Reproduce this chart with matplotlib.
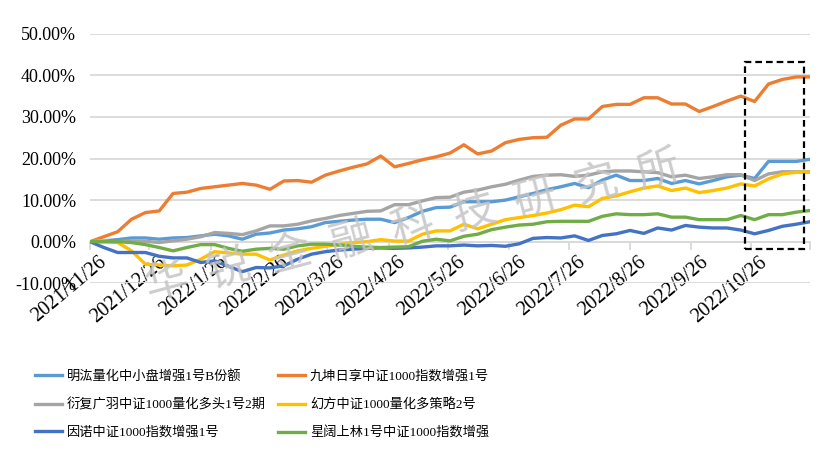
import pandas as pd
import matplotlib
matplotlib.use('Agg')
import matplotlib.pyplot as plt
import matplotlib.dates as mdates
from matplotlib.patches import Rectangle
from matplotlib.transforms import ScaledTranslation
from matplotlib.ticker import FuncFormatter

# weekly net value dates (Fridays)
dates = pd.date_range('2021-11-26', periods=53, freq='7D')
tick_dates = pd.date_range('2021-11-26', periods=12, freq=pd.DateOffset(months=1))
x_end = pd.Timestamp('2022-11-25')

names = ['明汯量化中小盘增强1号B份额', '九坤日享中证1000指数增强1号',
         '衍复广羽中证1000量化多头1号2期', '幻方中证1000量化多策略2号',
         '因诺中证1000指数增强1号', '星阔上林1号中证1000指数增强']
colors = ['#5B9BD5', '#ED7D31', '#A5A5A5', '#FFC000', '#4472C4', '#70AD47']

# cumulative return, %
minghong = [0, 0.2, 0.5, 0.9, 0.9, 0.6, 0.9, 1.0, 1.4, 1.8, 1.4, 0.6, 1.8, 2.1, 2.8,
            3.1, 3.6, 4.6, 4.9, 5.2, 5.4, 5.4, 4.6, 5.8, 7.3, 8.2, 8.3, 9.6, 9.6, 9.6,
            10.0, 10.8, 11.6, 12.5, 13.2, 14.0, 13.0, 14.8, 16.0, 14.7, 14.7, 15.2, 14.0,
            14.7, 13.9, 14.7, 15.6, 16.0, 15.2, 19.3, 19.3, 19.3, 19.8]
jiukun = [0, 1.2, 2.4, 5.4, 7.0, 7.4, 11.6, 11.9, 12.8, 13.2, 13.6, 14.0, 13.6, 12.6, 14.6,
          14.7, 14.3, 16.0, 17.0, 17.9, 18.7, 20.6, 18.0, 18.8, 19.7, 20.4, 21.3, 23.3, 21.1,
          21.8, 23.8, 24.6, 25.0, 25.1, 28.0, 29.5, 29.5, 32.5, 33.0, 33.0, 34.6, 34.6, 33.1,
          33.1, 31.3, 32.5, 33.8, 35.0, 33.7, 37.9, 39.0, 39.6, 39.6]
yanfu = [0, 0, 0, 0.2, 0.1, -0.2, 0.2, 0.6, 1.2, 2.2, 2.0, 1.7, 2.6, 3.8, 3.8,
         4.2, 5.0, 5.6, 6.3, 6.8, 7.3, 7.4, 8.9, 8.9, 9.8, 10.6, 10.7, 11.9, 12.4, 13.2,
         13.8, 14.8, 15.7, 16.0, 16.1, 15.7, 16.0, 16.8, 17.0, 17.0, 16.8, 16.6, 15.6,
         16.0, 15.2, 15.6, 16.1, 16.1, 14.7, 16.3, 16.8, 16.8, 16.8]
huanfang = [0, 0.2, -0.2, -2.2, -5.4, -5.6, -5.8, -5.6, -4.2, -2.4, -2.7, -3.0, -3.0, -4.4, -3.2,
            -2.2, -1.6, -1.1, -0.7, -0.2, 0.0, 0.5, 0.15, 0.15, 1.8, 2.6, 2.6, 4.2, 3.1, 4.2,
            5.3, 5.8, 6.3, 6.9, 7.7, 8.8, 8.4, 10.4, 11.0, 12.0, 12.9, 13.4, 12.3,
            12.9, 11.8, 12.3, 12.9, 13.9, 13.4, 15.1, 16.3, 16.7, 16.7]
yinnuo = [0, -1.4, -2.6, -2.6, -2.6, -3.5, -3.9, -3.9, -5.0, -4.6, -5.9, -7.2, -6.2, -6.3, -5.8,
          -4.2, -3.0, -2.4, -2.0, -1.8, -1.6, -1.5, -1.6, -1.5, -1.3, -1.0, -1.0, -0.8, -1.0, -0.9,
          -1.1, -0.5, 0.8, 1.0, 0.9, 1.4, 0.3, 1.5, 1.9, 2.7, 2.0, 3.3, 2.8,
          3.9, 3.5, 3.3, 3.3, 2.8, 1.9, 2.7, 3.7, 4.2, 4.8]
xingkuo = [0, 0, 0, -0.2, -0.7, -1.4, -2.2, -1.4, -0.7, -0.7, -1.6, -2.3, -1.8, -1.6, -1.8,
           -1.0, -0.6, -0.6, -0.8, -1.1, -1.3, -1.4, -1.3, -1.2, 0.1, 0.6, 0.2, 1.3, 1.8, 2.9,
           3.5, 4.0, 4.2, 4.8, 4.9, 4.9, 4.9, 6.1, 6.7, 6.5, 6.5, 6.7, 5.9,
           5.9, 5.3, 5.3, 5.3, 6.3, 5.3, 6.5, 6.5, 7.1, 7.5]
series = [minghong, jiukun, yanfu, huanfang, yinnuo, xingkuo]

# highlighted last month
box_start, box_end = pd.Timestamp('2022-10-23'), pd.Timestamp('2022-11-22')
box_low, box_high = -1.8, 43.3

watermark = '华锐金融科技研究所'

serif = 'Liberation Serif'
mixed = ['Liberation Serif', 'Noto Sans CJK SC']

fig = plt.figure(figsize=(8.27, 4.51), dpi=100)
ax = fig.add_axes([90 / 827, 1 - 283.3 / 451, 720 / 827, 249.6 / 451])

lines = []
for vals, name, c in zip(series, names, colors):
    ln, = ax.plot(dates, vals, color=c, lw=2.4, label=name, zorder=3)
    lines.append(ln)

ax.set_ylim(-10, 50)
ax.set_yticks(range(-10, 51, 10))
ax.yaxis.set_major_formatter(FuncFormatter(lambda v, p: f'{v:.2f}%'))
ax.yaxis.grid(True, color='#d9d9d9', lw=1.3)
ax.set_axisbelow(True)
ax.tick_params(axis='y', length=0, pad=10)
for lbl in ax.get_yticklabels():
    lbl.set_fontfamily(serif)
    lbl.set_fontsize(13)

for s in ['left', 'right', 'top']:
    ax.spines[s].set_visible(False)
ax.spines['bottom'].set_position(('data', 0))
ax.spines['bottom'].set_color('#d9d9d9')
ax.spines['bottom'].set_linewidth(1.3)

ax.set_xlim(dates[0], x_end)
ax.set_xticks(list(tick_dates) + [x_end])
ax.set_xticklabels([f'{d.year}/{d.month}/{d.day}' for d in tick_dates] + [''],
                   rotation=40, ha='right', va='top', rotation_mode='anchor',
                   fontfamily=serif, fontsize=14.5)
ax.tick_params(axis='x', direction='out', length=6, width=1.3, color='#d9d9d9', pad=2)
shift = ScaledTranslation(6 / 72, 0, fig.dpi_scale_trans)
for lbl in ax.get_xticklabels():
    lbl.set_transform(lbl.get_transform() + shift)

x0 = mdates.date2num(box_start)
ax.add_patch(Rectangle((x0, box_low), mdates.date2num(box_end) - x0, box_high - box_low,
                       fill=False, ec='black', lw=1.6, ls=(0, (3, 1.8)),
                       clip_on=False, zorder=5))

# watermark
for k, ch in enumerate(watermark):
    fig.text((167 + 61.4 * k) / 827, 1 - (283 - 14.0 * k) / 451, ch,
             fontsize=31, color='#c4c4c4', alpha=0.85, rotation=15,
             ha='center', va='center', fontfamily='Noto Sans CJK SC', zorder=10)

order = [0, 2, 4, 1, 3, 5]
fig.legend([lines[i] for i in order], [names[i] for i in order], ncol=2,
           loc='upper left', bbox_to_anchor=(35 / 827, 1 - 370 / 451),
           frameon=False, prop={'family': mixed, 'size': 9.5},
           handlelength=2.05, handletextpad=0.38, columnspacing=0.9,
           labelspacing=1.15, borderpad=0, borderaxespad=0)

fig.savefig('out.png', dpi=100)
